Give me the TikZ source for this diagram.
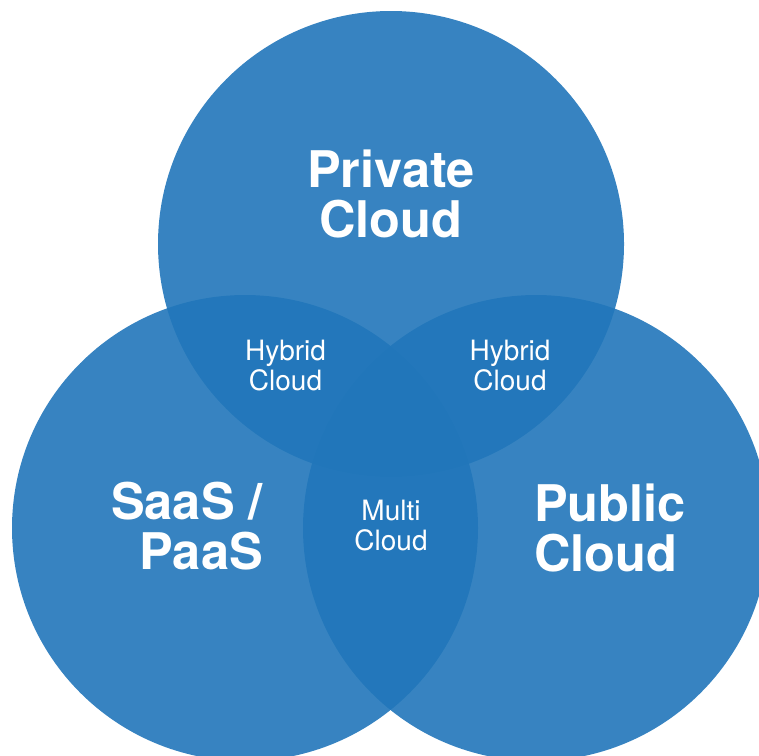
\documentclass[tikz,border=0pt]{standalone}
\usepackage{fontspec}
\setmainfont{TeX Gyre Heros}
\definecolor{vennblue}{RGB}{33,118,186}
\begin{document}
\begin{tikzpicture}[x=1pt,y=-1pt,
  setcircle/.style={circle,minimum size=466pt,inner sep=0pt,fill=vennblue,fill opacity=0.9,draw=none},
  biglabel/.style={text=white,inner sep=0pt,font=\fontsize{50.5}{50}\selectfont\bfseries},
  smalllabel/.style={text=white,inner sep=0pt,align=center,font=\fontsize{28}{30}\selectfont}]
\useasboundingbox (0,0) rectangle (759,755);
\clip (0,0) rectangle (759,755);
\node[setcircle] (private) at (391,244) {};
\node[setcircle] (saas) at (245,528) {};
\node[setcircle] (public) at (536,528) {};
\node[biglabel,align=center,anchor=base] (privatelbl) at (391,237) {Private\\Cloud};
\node[biglabel,align=right,anchor=base east] (saaslbl) at (263,569) {SaaS /\\PaaS};
\node[biglabel,align=left,anchor=base west] (publiclbl) at (534,571) {Public\\Cloud};
\node[smalllabel,anchor=base] (hybridl) at (285.5,390) {Hybrid\\Cloud};
\node[smalllabel,anchor=base] (hybridr) at (510,390) {Hybrid\\Cloud};
\node[smalllabel,anchor=base] (multi) at (391,550) {Multi\\Cloud};
\end{tikzpicture}
\end{document}
